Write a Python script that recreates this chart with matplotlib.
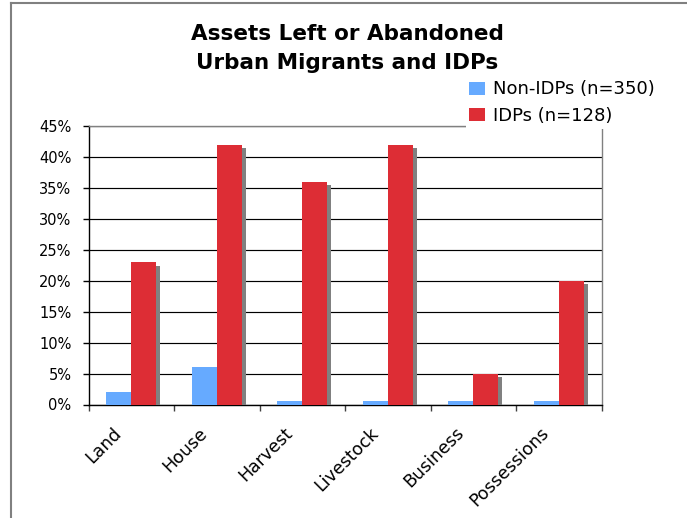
import matplotlib
matplotlib.use("Agg")
import matplotlib.pyplot as plt
import matplotlib.patheffects as pe
from matplotlib.lines import Line2D
from matplotlib.patches import Rectangle
from matplotlib.ticker import FixedLocator, PercentFormatter
import numpy as np

categories = ["Land", "House", "Harvest", "Livestock", "Business", "Possessions"]
non_idps = [2, 6, 0.5, 0.5, 0.5, 0.5]
idps = [23, 42, 36, 42, 5, 20]
series_labels = ["Non-IDPs (n=350)", "IDPs (n=128)"]
title_lines = ["Assets Left or Abandoned", "Urban Migrants and IDPs"]

W, H = 687, 518
fig = plt.figure(figsize=(W / 100, H / 100), dpi=100)
fig.patch.set_facecolor("white")

ax = fig.add_axes([88.7 / W, 1 - 404.5 / H, (601.7 - 88.7) / W, (404.5 - 126) / H])

x = np.arange(len(categories))
w = 0.292
shadow = [pe.SimplePatchShadow(offset=(2.6, -2.6), shadow_rgbFace="#808080", alpha=1.0), pe.Normal()]
b1 = ax.bar(x - w / 2, non_idps, w, color="#66AAFF", zorder=3, label=series_labels[0])
b2 = ax.bar(x + w / 2, idps, w, color="#DD2D35", zorder=4, label=series_labels[1])
for bars in (b1, b2):
    for r in bars:
        r.set_path_effects(shadow)

ax.set_xlim(-0.5, len(categories) - 0.5)
ax.set_ylim(0, 45)
ax.set_yticks(np.arange(0, 46, 5))
ax.yaxis.set_major_formatter(PercentFormatter(decimals=0))
ax.grid(axis="y", color="black", linewidth=0.85, zorder=1)
ax.set_axisbelow(True)

# boundary ticks (major, unlabeled) and category labels (minor, slightly left of centre)
ax.xaxis.set_major_locator(FixedLocator(np.arange(-0.5, len(categories), 1.0)))
ax.xaxis.set_minor_locator(FixedLocator(x - 0.22))
ax.set_xticklabels([], minor=False)
ax.set_xticklabels(categories, minor=True, rotation=45, ha="right",
                   rotation_mode="anchor", fontsize=12.5)
ax.tick_params(axis="x", which="major", length=4.5, width=1, color="#404040", direction="out")
ax.tick_params(axis="x", which="minor", length=0, pad=14)
ax.tick_params(axis="y", length=4.5, width=1, color="black", labelsize=10.5, pad=8)

for s in ("left", "bottom"):
    ax.spines[s].set_color("black")
    ax.spines[s].set_linewidth(1.0)
for s in ("right", "top"):
    ax.spines[s].set_color("#808080")
    ax.spines[s].set_linewidth(1.0)

# title
fig.text(347 / W, 1 - 34 / H, title_lines[0], ha="center", va="center",
         fontsize=15.5, fontweight="bold")
fig.text(347 / W, 1 - 63 / H, title_lines[1], ha="center", va="center",
         fontsize=15.5, fontweight="bold")

# white area behind legend (covers top-right corner of plot frame)
fig.add_artist(Rectangle((466 / W, 1 - 129 / H), (604 - 466) / W, (129 - 76) / H,
                         transform=fig.transFigure, facecolor="white",
                         edgecolor="none", zorder=5))
leg = fig.legend(handles=[b1, b2], labels=series_labels, loc="upper left",
                 bbox_to_anchor=(455 / W, 1 - 66 / H), frameon=False,
                 fontsize=13, handlelength=0.88, handleheight=0.72,
                 handletextpad=0.4, labelspacing=0.48, borderpad=0.3)
leg.set_zorder(6)
for h in leg.legend_handles:
    h.set_path_effects([])

# outer chart border
fig.add_artist(Line2D([11 / W, 11 / W], [0, 1 - 3 / H], transform=fig.transFigure,
                      color="#808080", linewidth=1.5))
fig.add_artist(Line2D([11 / W, 1], [1 - 3 / H, 1 - 3 / H], transform=fig.transFigure,
                      color="#808080", linewidth=1.5))

fig.savefig("out.png", dpi=100)
